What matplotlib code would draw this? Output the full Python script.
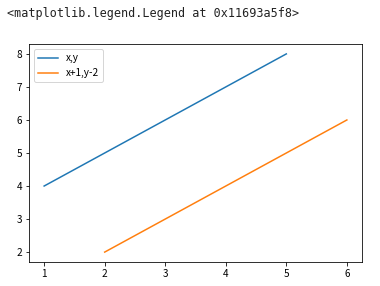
import matplotlib
matplotlib.use("Agg")
import matplotlib.pyplot as plt

x = [1, 2, 3, 4, 5]
y = [4, 5, 6, 7, 8]
x2 = [v + 1 for v in x]
y2 = [v - 2 for v in y]

plt.rcParams['font.family'] = ['Noto Sans CJK SC', 'DejaVu Sans']

fig = plt.figure(figsize=(380 / 72, 286 / 72), dpi=72)
ax = fig.add_axes([29 / 380, 1 - 262 / 286, 333 / 380, 218 / 286])
ax.plot(x, y, label='x,y')
ax.plot(x2, y2, label='x+1,y-2')
ax.legend(loc='upper left')

fig.text(7 / 380, 1 - 13 / 286, '<matplotlib.legend.Legend at 0x11693a5f8>',
         family='DejaVu Sans Mono', fontsize=11.7, va='center', ha='left', color='#222222')

fig.savefig('out.png', dpi=72)
